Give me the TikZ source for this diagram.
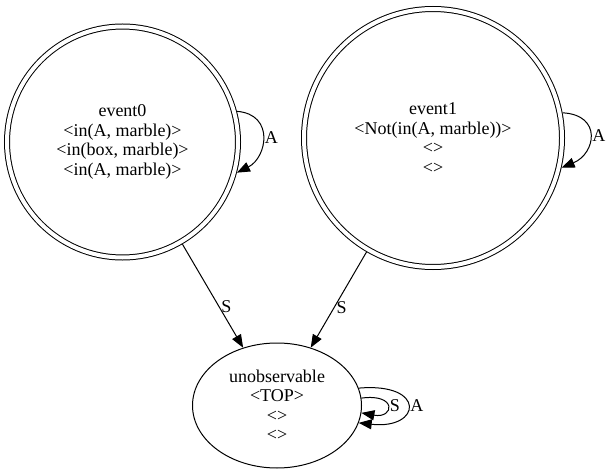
\documentclass[tikz,border=0pt]{standalone}
\usepackage{fontspec}
\setmainfont{Liberation Serif}
\usetikzlibrary{arrows.meta, shapes.geometric}

\begin{document}
\begin{tikzpicture}[x=1pt, y=-1pt,
        font=\fontsize{18}{19.5}\selectfont,
        st/.style={circle, draw, double, double distance=4pt, line width=1pt, inner sep=0pt, outer sep=3pt, align=center},
        un/.style={ellipse, draw, line width=1pt, minimum width=169pt, minimum height=125pt, inner sep=0pt, align=center},
        e/.style={-{Triangle[length=13pt, width=10pt]}, line width=1pt},
        lab/.style={inner sep=2pt}]
        \useasboundingbox (0,0) rectangle (613,476);

        \draw node[st, minimum size=231pt] (ev0) at (122.5,142) {event0\\<in(A, marble)>\\<in(box, marble)>\\<in(A, marble)>};
        \draw node[st, minimum size=258pt] (ev1) at (433,138) {event1\\<Not(in(A, marble))>\\<>\\<>};
        \draw node[un] (unobs) at (277,405.5) {unobservable\\<TOP>\\<>\\<>};

        \draw[e] (ev0) -- node[lab, pos=0.6, right] {S} (unobs);
        \draw[e] (ev1) -- node[lab, pos=0.58, right] {S} (unobs);

        % self loops
        \draw[e] (ev0.15) .. controls +(38,3) and +(30,-15) .. node[lab, right] {A} (ev0.-15);
        \draw[e] (ev1.11) .. controls +(40,2) and +(34,-14) .. node[lab, right] {A} (ev1.-13);
        \draw[e] (unobs.5) .. controls +(36,-5) and +(33,6) .. node[lab, right] {S} (unobs.-5);
        \draw[e] (unobs.12) .. controls +(68,-6) and +(63,7) .. node[lab, right] {A} (unobs.-12);
\end{tikzpicture}
\end{document}
